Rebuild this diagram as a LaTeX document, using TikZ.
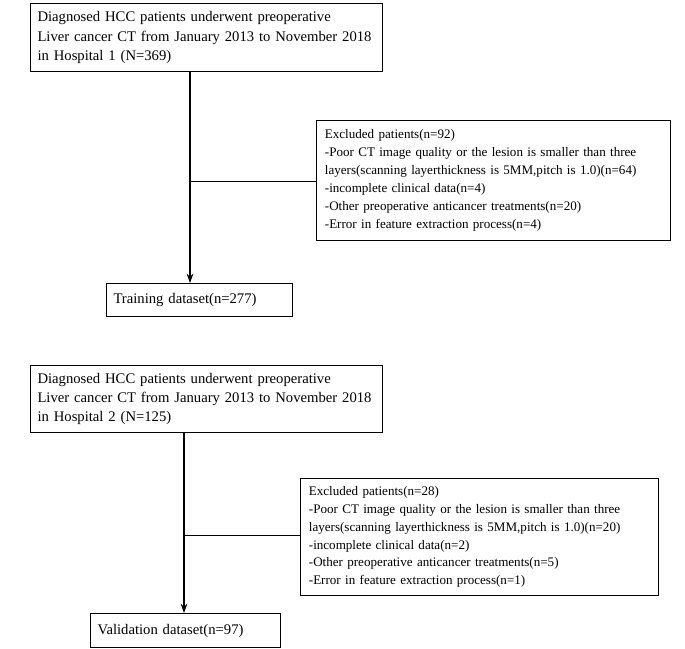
\documentclass[tikz,border=0pt]{standalone}
\usepackage{fontspec}
\setmainfont{Liberation Serif}
\usetikzlibrary{arrows.meta}
\tikzset{
  mainbox/.style={draw,line width=0.8pt,anchor=north west,align=left,inner sep=5pt,
    font=\fontsize{11}{14.3}\selectfont},
  exclbox/.style={draw,line width=0.6pt,anchor=north west,align=left,inner sep=6pt,
    font=\fontsize{9.8}{13.4}\selectfont},
  flow/.style={line width=0.8pt,-{Stealth[length=7pt,width=5pt]}}
}
\begin{document}
\begin{tikzpicture}[x=0.75pt,y=-0.75pt]
\useasboundingbox (0,0) rectangle (685,649);
% first hospital
\node[mainbox,minimum width=352*0.75pt,minimum height=68*0.75pt,text width=338*0.75pt] (hosp1) at (30,3)
{Diagnosed HCC patients underwent preoperative\\Liver cancer CT from January 2013 to November 2018\\in Hospital 1 (N=369)};
\node[exclbox,minimum width=354*0.75pt,minimum height=120*0.75pt,text width=337*0.75pt] (excl1) at (316,120)
{Excluded patients(n=92)\\-Poor CT image quality or the lesion is smaller than three\\layers(scanning layerthickness is 5MM,pitch is 1.0)(n=64)\\-incomplete clinical data(n=4)\\-Other preoperative anticancer treatments(n=20)\\-Error in feature extraction process(n=4)};
\node[mainbox,minimum width=186*0.75pt,minimum height=33*0.75pt,text width=172*0.75pt] (train) at (106,283)
{Training dataset(n=277)};
\coordinate (j1) at (190,181);
\draw[flow] (hosp1.south -| j1) -- (train.north -| j1);
\draw[line width=0.6pt] (j1) -- (excl1.west |- j1);
% second hospital
\node[mainbox,minimum width=352*0.75pt,minimum height=67*0.75pt,text width=338*0.75pt] (hosp2) at (30,365)
{Diagnosed HCC patients underwent preoperative\\Liver cancer CT from January 2013 to November 2018\\in Hospital 2 (N=125)};
\node[exclbox,minimum width=358*0.75pt,minimum height=115*0.75pt,text width=341*0.75pt] (excl2) at (300,478)
{Excluded patients(n=28)\\-Poor CT image quality or the lesion is smaller than three\\layers(scanning layerthickness is 5MM,pitch is 1.0)(n=20)\\-incomplete clinical data(n=2)\\-Other preoperative anticancer treatments(n=5)\\-Error in feature extraction process(n=1)};
\node[mainbox,minimum width=190*0.75pt,minimum height=34*0.75pt,text width=176*0.75pt] (valid) at (90,613)
{Validation dataset(n=97)};
\coordinate (j2) at (184,535);
\draw[flow] (hosp2.south -| j2) -- (valid.north -| j2);
\draw[line width=0.6pt] (j2) -- (excl2.west |- j2);
\end{tikzpicture}
\end{document}
